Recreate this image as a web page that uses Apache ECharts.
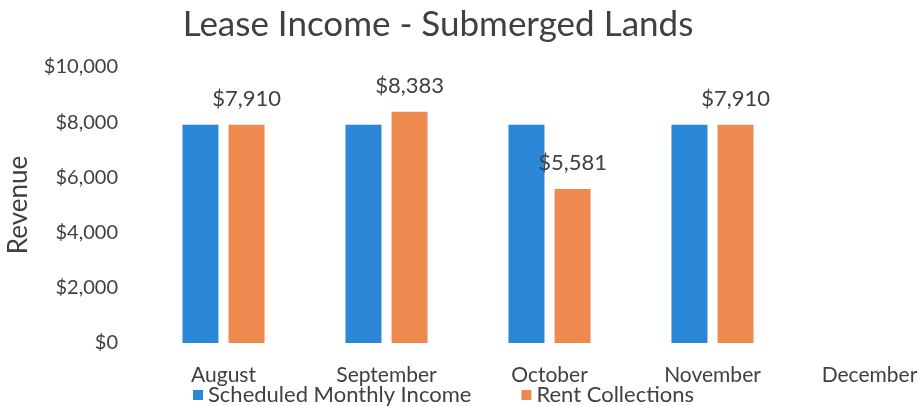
<!DOCTYPE html>
<html>
<head>
<meta charset="utf-8">
<script src="https://cdn.jsdelivr.net/npm/echarts@6/dist/echarts.min.js"></script>
<style>
  html, body { margin: 0; padding: 0; background: #fff; }
  #container { width: 920px; height: 406px; }
</style>
</head>
<body>
<div id="container"></div>
<script>
// chart data
var months = ['August', 'September', 'October', 'November', 'December'];
var scheduled = [7910, 7910, 7910, 7910, null];
var collected = [7910, 8383, 5581, 7910, null];
var seriesNames = ['Scheduled Monthly Income', 'Rent Collections'];

function dollars(v) {
    return '$' + Number(v).toLocaleString('en-US');
}

var font = 'Lato, "Open Sans", sans-serif';
var myChart = echarts.init(document.getElementById('container'));
var option = {
    animation: false,
    textStyle: { fontFamily: font },
    title: {
        text: 'Lease Income - Submerged Lands',
        left: 433,
        textAlign: 'center',
        top: 2,
        textStyle: { fontFamily: font, fontSize: 35, fontWeight: 'normal', color: '#404040' }
    },
    legend: {
        data: seriesNames,
        left: 193,
        top: 384,
        padding: 0,
        itemWidth: 10,
        itemHeight: 10,
        itemGap: 50,
        icon: 'rect',
        textStyle: { fontFamily: font, fontSize: 22, color: '#404040', padding: [0, 0, 0, 0] }
    },
    grid: { left: 142, width: 815, top: 67, bottom: 63, outerBoundsMode: 'none' },
    xAxis: {
        type: 'category',
        data: months,
        axisLine: { show: false },
        axisTick: { show: false },
        axisLabel: {
            interval: 0,
            margin: 22, fontSize: 21, color: '#404040', fontFamily: font,
            // the last label sits a little left so it stays inside the page
            formatter: function (v, i) {
                return i === months.length - 1 ? '{last|' + v + '}' : v;
            },
            rich: {
                last: { fontSize: 21, color: '#404040', fontFamily: font, padding: [0, 12, 0, 0] }
            }
        }
    },
    yAxis: {
        type: 'value',
        min: 0,
        max: 10000,
        interval: 2000,
        name: 'Revenue',
        nameLocation: 'middle',
        nameGap: 110,
        nameTextStyle: { fontSize: 26, color: '#404040', fontFamily: font },
        splitLine: { show: false },
        axisLine: { show: false },
        axisTick: { show: false },
        axisLabel: { margin: 24, fontSize: 20, color: '#404040', fontFamily: font, formatter: dollars }
    },
    series: [
        {
            name: seriesNames[0],
            type: 'bar',
            data: scheduled,
            barWidth: 36,
            barGap: '28%',
            itemStyle: { color: '#2B87D8' }
        },
        {
            name: seriesNames[1],
            type: 'bar',
            data: collected,
            barWidth: 36,
            itemStyle: { color: '#EE8A50' },
            label: {
                show: true,
                position: 'top',
                distance: 15,
                fontSize: 22,
                color: '#404040',
                fontFamily: font,
                formatter: function (p) { return dollars(p.value); }
            }
        }
    ]
};
myChart.setOption(option);
</script>
</body>
</html>
